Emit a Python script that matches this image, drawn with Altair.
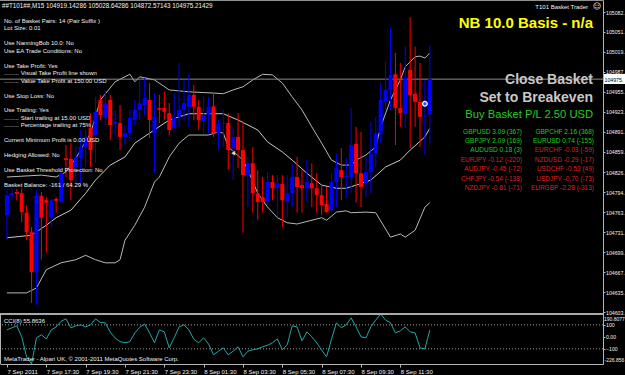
import json
import altair as alt
import pandas as pd

# ---------------- data ----------------
BARS = list(range(87))
OPEN = [104758, 104790, 104795, 104793, 104762, 104731, 104667, 104789, 104782, 104754,
        104784, 104779, 104849, 104848, 104835, 104849, 104867, 104897, 104886, 104942,
        104913, 104942, 104904, 104905, 104883, 104889, 104910, 104926, 104934, 104942,
        104889, 104929, 104929, 104921, 104897, 104915, 104926, 104931, 104950, 104931,
        104908, 104918, 104932, 104889, 104904, 104905, 104865, 104883, 104862, 104822,
        104841, 104793, 104787, 104779, 104811, 104801, 104808, 104779, 104793, 104819,
        104806, 104801, 104809, 104801, 104790, 104776, 104766, 104811, 104830, 104819,
        104819, 104872, 104825, 104809, 104827, 104857, 104889, 104939, 104958, 104983,
        104929, 104921, 104990, 104952, 104939, 104915, 104919.14]
HIGH = [104798, 104801, 104800, 104801, 104774, 104739, 104798, 104795, 104787, 104785,
        104787, 104835, 104870, 104873, 104867, 104894, 104894, 104921, 104947, 104950,
        104958, 104950, 104926, 104934, 104902, 104926, 104942, 104974, 104977, 104969,
        104953, 104950, 104955, 104937, 104953, 105001, 104974, 104985, 104966, 104942,
        104947, 104947, 104955, 104910, 104926, 104921, 104899, 104921, 104907, 104851,
        104867, 104830, 104819, 104827, 104822, 104822, 104822, 104822, 104841, 104851,
        104830, 104846, 104841, 104825, 104806, 104803, 104825, 104857, 104865, 104849,
        104929, 104899, 104891, 104851, 104907, 104915, 104969, 105003, 105058, 105017,
        105001, 105027, 105074, 105027, 105001, 104974, 105028.64]
LOW = [104718, 104782, 104782, 104747, 104718, 104618, 104615, 104687, 104698, 104739,
       104762, 104778, 104819, 104782, 104809, 104809, 104835, 104835, 104841, 104910,
       104902, 104878, 104886, 104862, 104870, 104878, 104902, 104910, 104918, 104881,
       104825, 104905, 104910, 104886, 104894, 104899, 104910, 104899, 104910, 104894,
       104889, 104889, 104883, 104862, 104867, 104830, 104814, 104833, 104730, 104771,
       104762, 104750, 104762, 104774, 104782, 104755, 104739, 104755, 104771, 104762,
       104762, 104778, 104771, 104762, 104758, 104762, 104762, 104771, 104782, 104785,
       104793, 104778, 104771, 104787, 104793, 104835, 104873, 104926, 104926, 104870,
       104899, 104897, 104865, 104899, 104867, 104854, 104872.57]
CLOSE = [104790, 104793, 104792, 104763, 104731, 104667, 104790, 104754, 104778, 104782,
         104781, 104825, 104846, 104814, 104851, 104867, 104883, 104862, 104923, 104918,
         104936, 104902, 104907, 104883, 104889, 104913, 104926, 104937, 104945, 104910,
         104915, 104926, 104923, 104894, 104915, 104926, 104937, 104950, 104931, 104910,
         104918, 104931, 104889, 104904, 104905, 104862, 104883, 104862, 104822, 104841,
         104793, 104779, 104779, 104811, 104801, 104809, 104782, 104793, 104819, 104803,
         104801, 104811, 104801, 104790, 104774, 104763, 104811, 104833, 104819, 104821,
         104870, 104825, 104803, 104827, 104857, 104889, 104942, 104958, 104982, 104929,
         104921, 104977, 104950, 104939, 104915, 104916, 104975.21]

UPPER_BAR = [0, 7, 10, 12, 14, 17, 19, 22, 25, 26, 27, 30, 33, 37, 42, 44, 46, 48, 50, 52,
             54, 56, 58, 60, 62, 64, 66, 68, 70, 71, 73, 75, 76, 78, 80, 81, 83, 84, 85, 86]
UPPER = [104819, 104822, 104819, 104827, 104849, 104889, 104942, 104971, 104983, 104971,
         104979, 104974, 104958, 104955, 104953, 104952, 104958, 104963, 104974, 104983,
         104982, 104969, 104947, 104926, 104899, 104873, 104846, 104838, 104838, 104846,
         104854, 104867, 104899, 104942, 104974, 104995, 105011, 105012, 105009, 105017]
MID_BAR = [0, 5, 8, 10, 13, 16, 18, 21, 24, 26, 29, 33, 35, 37, 44, 47, 51, 53, 56, 58,
           61, 64, 67, 69, 71, 74, 77, 80, 82, 85, 86]
MID = [104722, 104726, 104742, 104754, 104766, 104793, 104814, 104838, 104851, 104873,
       104889, 104910, 104915, 104920, 104920, 104910, 104894, 104875, 104859, 104846,
       104825, 104806, 104801, 104801, 104806, 104814, 104835, 104846, 104862, 104883,
       104897]
LOWB_BAR = [0, 4, 6, 8, 11, 14, 16, 18, 20, 22, 23, 24, 26, 28, 30, 31, 33, 35, 37, 41,
            43, 44, 45, 48, 49, 51, 53, 55, 57, 59, 64, 65, 67, 69, 70, 73, 75, 78, 80, 81,
            83, 85, 86]
LOWB = [104634, 104634, 104642, 104671, 104682, 104687, 104694, 104687, 104682, 104682,
        104687, 104718, 104742, 104771, 104811, 104819, 104851, 104873, 104886, 104886,
        104891, 104889, 104867, 104846, 104830, 104793, 104771, 104754, 104746, 104744,
        104754, 104750, 104763, 104765, 104762, 104763, 104762, 104723, 104728, 104723,
        104734, 104771, 104778]

CCI = [58, 75, 92, 0, -167, -226.856, -8, 17, -17, 58,
       83, 130, 150, 75, 92, 100, 83, 100, 150, 120,
       117, 40, -10, -40, -50, -40, 33, 80, 108, 33,
       -50, 58, 42, -92, -8, 83, 100, 58, -20, -50,
       -8, -60, -150, -120, -92, -150, -120, -83, -167, -120,
       -108, -100, -83, -70, -50, -17, -108, -67, 92, 83,
       -33, 42, 0, -50, -110, -167, -20, 117, 75, 100,
       158, 83, 0, -8, 83, 140, 190.8077, 140, 117, 33,
       50, 83, 42, 33, -92, -100, 55.8636]
CCI_LEVELS = [100, -100]
CCI_TICKS = [100, 0, -100]
CCI_RANGE = [-226.856, 190.8077]

LAST_CLOSE = 104975.21429
PRICE_TICKS = [105082.4, 105051.0, 105019.1, 104987.2, 104955.3, 104923.4, 104891.5,
               104859.6, 104826.9, 104794.9, 104763.0, 104731.1, 104699.2, 104667.3,
               104635.4, 104603.5]
TIME_TICKS = [0, 8, 16, 24, 32, 40, 48, 56, 64, 72, 80]
TIME_LABELS = ["7 Sep 2011", "7 Sep 17:30", "7 Sep 19:30", "7 Sep 21:30", "7 Sep 23:30",
               "8 Sep 01:30", "8 Sep 03:30", "8 Sep 05:30", "8 Sep 07:30", "8 Sep 09:30",
               "8 Sep 11:30"]

ARROW_BAR, ARROW_PRICE = [46], [104857]
CIRCLE_BAR, CIRCLE_PRICE = [85], [104936]

HEADER = "##T101##,M15  104919.14286 105028.64286 104872.57143 104975.21429"
INFO_LINES = ["No. of Basket Pairs: 14 (Pair Suffix )", "Lot Size: 0.01", "",
              "Use NanningBob 10.0: No", "Use EA Trade Conditions: No", "",
              "Use Take Profit: Yes", "......... Visual Take Profit line shown",
              "......... Value Take Profit at 150.00 USD", "", "Use Stop Loss: No", "",
              "Use Trailing: Yes", "......... Start trailing at 15.00 USD",
              "......... Percentage trailing at 75%", "",
              "Current Minimum Profit is 0.00 USD", "", "Hedging Allowed: No", "",
              "Use Basket Threshold Protection: No", "", "Basket Balance: -161 / 64.29 %"]
EA_NAME = "T101 Basket Trader"
BIG_TITLE = "NB 10.0 Basis - n/a"
BUTTONS = ["Close Basket", "Set to Breakeven"]
BASKET_PL = "Buy Basket P/L 2.50 USD"
PAIRS_L = ["GBPUSD", "GBPJPY", "AUDUSD", "EURJPY", "AUDJPY", "CHFJPY", "NZDJPY"]
PL_L = ["3.09", "2.09", "0.18", "-0.12", "-0.45", "-0.54", "-0.81"]
PIPS_L = ["367", "169", "3", "-220", "-72", "-138", "-71"]
PAIRS_R = ["GBPCHF", "EURUSD", "EURCHF", "NZDUSD", "USDCHF", "USDJPY", "EURGBP"]
PL_R = ["2.16", "0.74", "-0.03", "-0.29", "-0.53", "-0.70", "-2.28"]
PIPS_R = ["368", "-155", "-59", "-17", "49", "-73", "-313"]
CCI_LABEL = "CCI(8) 55.8636"
COPYRIGHT = "MetaTrader - Alpari UK, \u00a9 2001-2011 MetaQuotes Software Corp."
CCI_EXTREME_LABELS = ["190.8077", "-226.856"]

# ---------------- layout ----------------
W, H = 603, 364
FONT = "Liberation Sans"
AXIS_GREY = "#B4B4B4"
TXT = "#F0F0F0"
GREEN = "#22CC22"
RED = "#DD2222"
AX_FS = 5.2

ppx = (PRICE_TICKS[0] - PRICE_TICKS[-1]) / 300.0
p_top = PRICE_TICKS[0] + 12 * ppx
p_bot = PRICE_TICKS[0] - (H - 12) * ppx
cpx = (CCI_RANGE[1] - CCI_RANGE[0]) / (H - 314)
c_top = CCI_RANGE[1] + 314 * cpx
c_bot = CCI_RANGE[0]

xs = alt.Scale(domain=[-0.4, 120.2], nice=False, zero=False)
ys = alt.Scale(domain=[p_bot, p_top], nice=False, zero=False)
cs = alt.Scale(domain=[c_bot, c_top], nice=False, zero=False)

x_axis = alt.Axis(values=TIME_TICKS, labelExpr=json.dumps(TIME_LABELS) + "[round(datum.value / 8)]",
                  labelAlign="left", labelFontSize=6, labelFont=FONT, labelColor=TXT,
                  labelPadding=1, tickSize=3, tickColor=AXIS_GREY, domainColor=AXIS_GREY,
                  labelFlush=False, labelOverlap=False, grid=False, title=None)
p_axis = alt.Axis(orient="right", values=PRICE_TICKS, labelExpr="floor(datum.value) + '.'",
                  labelFontSize=AX_FS, labelFont=FONT, labelColor=TXT, labelPadding=0.5,
                  tickSize=2, tickColor=AXIS_GREY, domainColor=AXIS_GREY, grid=False,
                  labelOverlap=False, labelFlush=False, title=None)
c_axis = alt.Axis(orient="right", values=CCI_TICKS,
                  labelExpr="datum.value == 0 ? '0.00' : format(datum.value, 'd')",
                  labelFontSize=AX_FS, labelFont=FONT, labelColor=TXT, labelPadding=0.5,
                  tickSize=2, tickColor=AXIS_GREY, domainColor=AXIS_GREY, grid=False,
                  labelOverlap=False, labelFlush=False, title=None)

X = alt.X("i:Q", scale=xs, axis=x_axis)

df = pd.DataFrame({"i": BARS, "open": OPEN, "high": HIGH, "low": LOW, "close": CLOSE})
df["dir"] = ["up" if c >= o else "down" for o, c in zip(OPEN, CLOSE)]
col = alt.Color("dir:N", scale=alt.Scale(domain=["up", "down"], range=["#0000FF", "#FF0000"]),
                legend=None)

def band(bars, vals, color):
    d = pd.DataFrame({"i": bars, "v": vals})
    return alt.Chart(d).mark_line(color=color, strokeWidth=1).encode(
        x=X, y=alt.Y("v:Q", scale=ys, axis=p_axis))

upper = band(UPPER_BAR, UPPER, "#B8B8B8")
mid = band(MID_BAR, MID, "#C8C8C8")
lower = band(LOWB_BAR, LOWB, "#B8B8B8")

price_line = alt.Chart(pd.DataFrame({"v": [LAST_CLOSE]})).mark_rule(
    color="#8C8C8C", strokeWidth=1).encode(y=alt.Y("v:Q", scale=ys, axis=p_axis))

wicks = alt.Chart(df).mark_rule(strokeWidth=1).encode(
    x=X, y=alt.Y("low:Q", scale=ys, axis=p_axis), y2="high:Q", color=col)
bodies = alt.Chart(df).mark_bar(size=4).encode(
    x=X, y=alt.Y("open:Q", scale=ys, axis=p_axis), y2="close:Q", color=col)

arrow = alt.Chart(pd.DataFrame({"i": ARROW_BAR, "v": ARROW_PRICE})).mark_point(
    shape="triangle-left", filled=True, color="#F0E070", size=22, opacity=1).encode(
    x=X, y=alt.Y("v:Q", scale=ys, axis=p_axis))
circle = alt.Chart(pd.DataFrame({"i": CIRCLE_BAR, "v": CIRCLE_PRICE})).mark_point(
    shape="circle", filled=True, fill="#3050FF", stroke="#FFFFFF", strokeWidth=1.2,
    size=22, opacity=1).encode(x=X, y=alt.Y("v:Q", scale=ys, axis=p_axis))

price_layer = alt.layer(upper, mid, lower, price_line, wicks, bodies, arrow, circle)

cdf = pd.DataFrame({"i": BARS, "c": CCI})
cci_lines = alt.Chart(pd.DataFrame({"c": CCI_LEVELS})).mark_rule(
    color="#A0A0A0", strokeWidth=1, strokeDash=[1, 2]).encode(
    y=alt.Y("c:Q", scale=cs, axis=c_axis))
cci_line = alt.Chart(cdf).mark_line(color="#20A8A8", strokeWidth=1).encode(
    x=X, y=alt.Y("c:Q", scale=cs, axis=c_axis))
cci_layer = alt.layer(cci_lines, cci_line)

ONE = alt.Data(values=[{"k": 0}])

def rule(x, x2, y, y2, color=AXIS_GREY, w=1):
    return alt.Chart(ONE).mark_rule(color=color, strokeWidth=w).encode(
        x=alt.value(x), x2=alt.value(x2), y=alt.value(y), y2=alt.value(y2))

def txt(s, x, y, size=6, color=TXT, align="left", bold=False, font=FONT):
    return alt.Chart(alt.Data(values=[{"t": s}])).mark_text(
        align=align, baseline="middle", fontSize=size, font=font,
        fontWeight="bold" if bold else "normal", color=color).encode(
        x=alt.value(x), y=alt.value(y), text="t:N")

decor = [
    rule(0, W, 0.5, 0.5, "#909090"),
    rule(0, W, 314, 314, "#A8A8A8", 2),
    rule(0.5, 0.5, 314, H),
    alt.Chart(ONE).mark_rect(color="#FFFFFF").encode(
        x=alt.value(604), x2=alt.value(626), y=alt.value(74), y2=alt.value(84)),
    txt(str(int(LAST_CLOSE)) + ".", 604.5, 79.5, size=AX_FS, color="#000000"),
    txt(CCI_EXTREME_LABELS[0], 604, 318.5, size=5),
    txt(CCI_EXTREME_LABELS[1], 604.5, 359.5, size=5),
]

texts = [txt(HEADER, 2, 6, size=6.3)]
for k, line in enumerate(INFO_LINES):
    if line:
        texts.append(txt(line, 4, 21 + 7.45 * k, size=6))
texts.append(txt(EA_NAME, 588, 7, size=6, align="right"))
texts.append(txt("\u263a", 593, 7, size=8, font="DejaVu Sans"))
texts.append(txt(BIG_TITLE, 593, 23, size=15, color="#FFFF00", align="right", bold=True))
texts.append(txt(BUTTONS[0], 593, 80, size=14, color="#C8C8C8", align="right", bold=True))
texts.append(txt(BUTTONS[1], 593, 98, size=14, color="#C8C8C8", align="right", bold=True))
texts.append(txt(BASKET_PL, 593, 114.5, size=11.2, color=GREEN, align="right"))
for k in range(len(PAIRS_L)):
    cl = GREEN if not PL_L[k].startswith("-") else RED
    texts.append(txt(f"{PAIRS_L[k]} {PL_L[k]} ({PIPS_L[k]})", 522, 131.5 + 9.4 * k,
                     size=6.5, color=cl, align="right"))
    cr = GREEN if not PL_R[k].startswith("-") else RED
    texts.append(txt(f"{PAIRS_R[k]} {PL_R[k]} ({PIPS_R[k]})", 594, 131.5 + 9.4 * k,
                     size=6.5, color=cr, align="right"))
texts.append(txt(CCI_LABEL, 4, 321, size=6))
texts.append(txt(COPYRIGHT, 4, 359, size=6))

chart = alt.layer(price_layer, cci_layer, *decor, *texts).resolve_scale(
    y="independent").properties(
    width=W, height=H,
    padding={"left": 0, "top": 0, "right": 22, "bottom": 11},
    autosize=alt.AutoSizeParams(type="none"),
    background="#000000",
).configure_view(strokeWidth=0)

chart.save("out.html", embed_options={"renderer": "svg", "actions": False})
